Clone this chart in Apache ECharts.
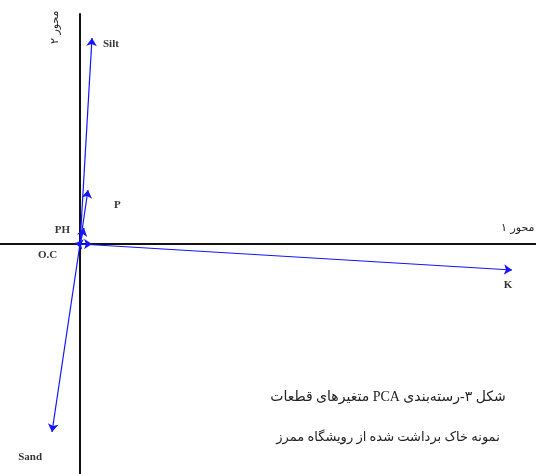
<!DOCTYPE html>
<html lang="fa">
<head>
    <meta charset="UTF-8">
    <title>PCA loadings</title>
    <script src="https://cdn.jsdelivr.net/npm/echarts@6/dist/echarts.min.js"></script>
    <style>
        body, html {
            margin: 0;
            padding: 0;
            background-color: #ffffff;
        }
        #chart {
            width: 536px;
            height: 474px;
        }
    </style>
</head>
<body>
    <div id="chart"></div>
    <script>
        // variable loadings on axis 1 and axis 2
        const variables = ['Silt', 'P', 'PH', 'O.C', '', 'K', 'Sand'];
        const axis1 = [0.03, 0.02, 0.01, -0.012, 0.03, 1.08, -0.07];
        const axis2 = [0.515, 0.135, 0.04, 0.002, 0, -0.065, -0.47];

        const axis1Name = 'محور ۱';
        const axis2Name = 'محور ۲';
        const captionLines = [
            'شکل ۳-رسته‌بندی PCA متغیرهای قطعات',
            'نمونه خاک برداشت شده از رویشگاه ممرز'
        ];

        // right-to-left embedding so Persian text is ordered correctly on canvas
        const rtl = s => '\u202B' + s + '\u202C';

        // where each label sits relative to the arrow tip
        const labelPlace = {
            'Silt': { align: 'left', offset: [11, 6] },
            'P': { align: 'left', offset: [26, 15] },
            'PH': { align: 'right', offset: [-14, 2] },
            'O.C': { align: 'right', offset: [-18, 12] },
            'K': { align: 'center', offset: [-4, 15] },
            'Sand': { align: 'right', offset: [-10, 25] }
        };

        const blue = '#1414ff';
        const chart = echarts.init(document.getElementById('chart'));

        const vectors = variables.map((name, i) => ({
            coords: [[0, 0], [axis1[i], axis2[i]]]
        }));

        const tips = variables.map((name, i) => {
            const place = labelPlace[name] || { align: 'center', offset: [0, 0] };
            return {
                value: [axis1[i], axis2[i]],
                label: {
                    show: name !== '',
                    formatter: name,
                    align: place.align,
                    offset: place.offset
                }
            };
        });

        const option = {
            animation: false,
            grid: { left: 0, right: 0, top: 14, bottom: 0 },
            xAxis: {
                type: 'value',
                min: -0.2,
                max: 1.14,
                splitLine: { show: false },
                axisTick: { show: false },
                axisLabel: { show: false },
                axisLine: { show: true, onZero: true, lineStyle: { color: '#111', width: 2 } }
            },
            yAxis: {
                type: 'value',
                min: -0.575,
                max: 0.575,
                splitLine: { show: false },
                axisTick: { show: false },
                axisLabel: { show: false },
                axisLine: { show: true, onZero: true, lineStyle: { color: '#111', width: 2 } }
            },
            series: [
                {
                    type: 'lines',
                    coordinateSystem: 'cartesian2d',
                    symbol: ['none', 'arrow'],
                    symbolSize: [0, 8],
                    lineStyle: { color: blue, width: 1.2, opacity: 1, curveness: 0 },
                    data: vectors,
                    z: 5
                },
                {
                    type: 'scatter',
                    symbolSize: 0,
                    label: {
                        position: 'inside',
                        color: '#000',
                        fontFamily: 'Liberation Serif',
                        fontWeight: 'bold',
                        fontSize: 11
                    },
                    data: tips,
                    z: 6
                }
            ],
            graphic: [
                {
                    type: 'text',
                    x: 501,
                    y: 228,
                    style: {
                        text: rtl(axis1Name),
                        fontFamily: 'DejaVu Sans',
                        fontSize: 11,
                        verticalAlign: 'middle',
                        fill: '#222'
                    }
                },
                {
                    type: 'text',
                    x: 50,
                    y: 44,
                    rotation: Math.PI / 2,
                    style: {
                        text: rtl(axis2Name),
                        fontFamily: 'DejaVu Sans',
                        fontSize: 11,
                        fill: '#222'
                    }
                },
                {
                    type: 'text',
                    x: 388,
                    y: 397,
                    style: {
                        text: rtl(captionLines[0]),
                        fontFamily: 'Liberation Serif, DejaVu Sans',
                        fontSize: 14,
                        align: 'center',
                        verticalAlign: 'middle',
                        fill: '#222'
                    }
                },
                {
                    type: 'text',
                    x: 388,
                    y: 438,
                    style: {
                        text: rtl(captionLines[1]),
                        fontFamily: 'Liberation Serif, DejaVu Sans',
                        fontSize: 13,
                        align: 'center',
                        verticalAlign: 'middle',
                        fill: '#222'
                    }
                }
            ]
        };
        chart.setOption(option);
    </script>
</body>
</html>
